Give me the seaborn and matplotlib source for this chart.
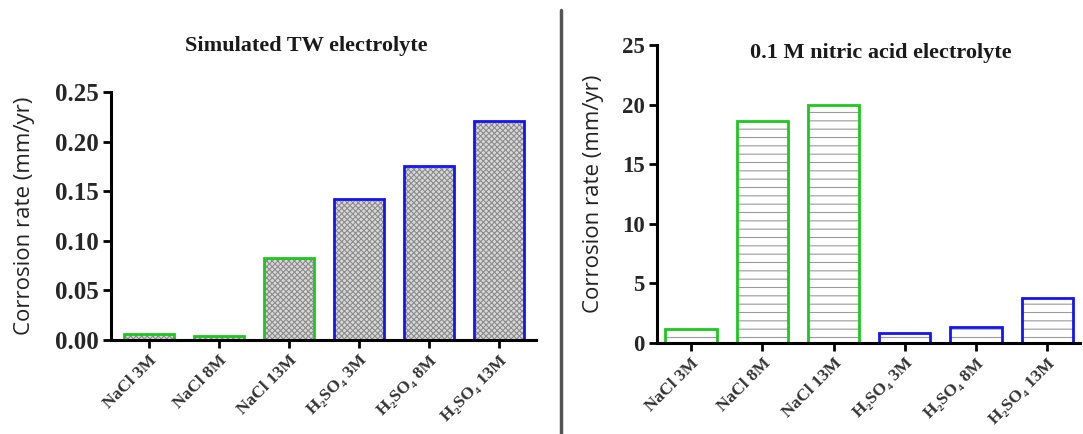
import matplotlib
matplotlib.use("Agg")
import matplotlib.pyplot as plt
import seaborn as sns

# Corrosion rates (mm/yr) per pre-treatment
categories = ["NaCl 3M", "NaCl 8M", "NaCl 13M", "H₂SO₄ 3M", "H₂SO₄ 8M", "H₂SO₄ 13M"]
tw_rates = [0.006, 0.004, 0.083, 0.142, 0.175, 0.221]
nitric_rates = [1.2, 18.6, 20.0, 0.85, 1.3, 3.8]
tw_yticks = [0.00, 0.05, 0.10, 0.15, 0.20, 0.25]
tw_yticklabels = ["0.00", "0.05", "0.10", "0.15", "0.20", "0.25"]
nitric_yticks = [0, 5, 10, 15, 20, 25]
nitric_yticklabels = ["0", "5", "10", "15", "20", "25"]
titles = ["Simulated TW electrolyte", "0.1 M nitric acid electrolyte"]
ylabel = "Corrosion rate (mm/yr)"

GREEN = "#1ec71e"
BLUE = "#1414f5"
edge_colors = [GREEN, GREEN, GREEN, BLUE, BLUE, BLUE]

sns.set_style("ticks")
plt.rcParams["hatch.linewidth"] = 0.8
SERIF = ["Liberation Serif", "DejaVu Serif"]

fig = plt.figure(figsize=(10.83, 4.34), dpi=100)
ax1 = fig.add_axes([0.1025, 0.2166, 0.3924, 0.5714])
ax2 = fig.add_axes([0.6066, 0.2097, 0.3906, 0.6866])


def draw_panel(ax, values, face, hatch, hatch_color, yticks, yticklabels, ylim, xlim,
               title, title_x, title_y, ytick_size, ylabel_pad):
    # hatched fill layer
    sns.barplot(x=categories, y=values, ax=ax, width=0.72, color=face, saturation=1)
    for p in ax.patches:
        p.set_hatch(hatch)
        p.set_edgecolor(hatch_color)
        p.set_linewidth(0)
    # coloured outline layer
    sns.barplot(x=categories, y=values, ax=ax, width=0.72, hue=categories,
                palette=edge_colors, fill=False, linewidth=2.0, legend=False,
                saturation=1)
    ax.set_ylim(*ylim)
    ax.set_xlim(*xlim)
    ax.set_yticks(yticks)
    ax.set_yticklabels(yticklabels, fontfamily=SERIF, fontweight="bold", fontsize=ytick_size)
    ax.set_xticks(range(len(categories)))
    ax.set_xticklabels(categories, rotation=45, ha="right", rotation_mode="anchor",
                       fontfamily=SERIF, fontweight="bold", fontsize=12.5, color="#333333")
    ax.tick_params(axis="both", length=6, width=2.0, color="black", pad=3)
    for side in ["left", "bottom"]:
        ax.spines[side].set_linewidth(2.2)
        ax.spines[side].set_color("black")
    sns.despine(ax=ax)
    ax.set_ylabel(ylabel, fontfamily="Open Sans", fontsize=16, color="#222222",
                  labelpad=ylabel_pad)
    ax.set_xlabel("")
    ax.set_title(title, fontfamily=SERIF, fontweight="bold", fontsize=16, color="#1a1a1a",
                 x=title_x, y=title_y)


draw_panel(ax1, tw_rates, "#d8d8d8", "xxxxxx", "#8c8c8c", tw_yticks, tw_yticklabels,
           (0, 0.25), (-0.54, 5.53), titles[0], 0.46, 1.13, 18, 14)
draw_panel(ax2, nitric_rates, "white", "--", "#9a9a9a", nitric_yticks, nitric_yticklabels,
           (0, 25), (-0.48, 5.46), titles[1], 0.53, 0.93, 16.5, 13)

# vertical divider between the two panels
fig.add_artist(plt.Line2D([561 / 1083, 561 / 1083], [0, 1 - 10 / 434],
                          transform=fig.transFigure, color="#555555", linewidth=2.5))

fig.savefig("out.png", dpi=100)
